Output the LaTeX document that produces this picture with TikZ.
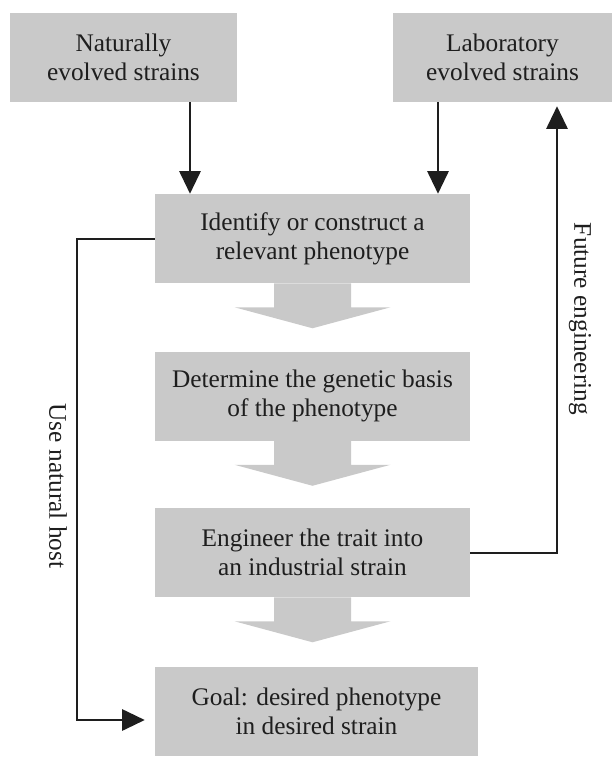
\documentclass[tikz,border=0pt]{standalone}
\usepackage{fontspec}
\setmainfont{Liberation Serif}
\usepackage{xcolor}
\usetikzlibrary{arrows.meta, math}
\definecolor{boxgray}{RGB}{201,201,201}
\definecolor{inkgray}{RGB}{30,30,30}

\begin{document}
\begin{tikzpicture}[x=0.75pt, y=-0.75pt,
  stepbox/.style={fill=boxgray, text=inkgray, align=center, inner sep=0pt,
    minimum height=66.75pt, font=\fontsize{19}{21.75}\selectfont},
  link/.style={line width=1.5pt, draw=inkgray,
    -{Triangle[length=17pt, width=16pt]}},
  sidelabel/.style={text=inkgray, rotate=-90, font=\fontsize{19}{21.75}\selectfont}]

\tikzmath{
\sw = 38.5; %half width of shaft
\hw = 78;   %half width of head
\sl = 24;   %shaft length
\hl = 45;   %tip
}

\useasboundingbox (0,0) rectangle (615,759);

%sources:
\node[stepbox, minimum width=170.25pt] (nat) at (123.5,57.5) {Naturally\\evolved strains};
\node[stepbox, minimum width=164.25pt] (lab) at (502.5,57.5) {Laboratory\\evolved strains};
%steps:
\node[stepbox, minimum width=236.25pt] (ident) at (312.5,238.5) {Identify or construct a\\relevant phenotype};
\node[stepbox, minimum width=236.25pt] (det) at (312.5,396) {Determine the genetic basis\\of the phenotype};
\node[stepbox, minimum width=236.25pt] (eng) at (312.5,552.5) {Engineer the trait into\\an industrial strain};
\node[stepbox, minimum width=242.25pt] (goal) at (316.5,711.5) {Goal: desired phenotype\\in desired strain};

%block arrows between steps
\foreach \a in {ident, det, eng}{
\begin{scope}[shift={(\a.south)}]
\fill[boxgray] (-\sw,0) -- (\sw,0) -- (\sw,\sl) -- (\hw,\sl) -- (0,\hl)
  -- (-\hw,\sl) -- (-\sw,\sl) -- cycle;
\end{scope}
}

%inputs
\coordinate (natx) at (190,0);
\coordinate (labx) at (438,0);
\draw[link] (nat.south -| natx) -- (ident.north -| natx);
\draw[link] (lab.south -| labx) -- (ident.north -| labx);

%feedback loops
\coordinate (futx) at (557,0);
\coordinate (hostx) at (77,720);
\draw[link, shorten >=3pt] (eng.east) -| (lab.south -| futx);
\draw[link, shorten >=7.5pt] (ident.west) -| (hostx) -- (goal.west |- hostx);

\node[sidelabel] (futlbl) at (580,319) {Future engineering};
\node[sidelabel] (hostlbl) at (58,486) {Use natural host};

\end{tikzpicture}
\end{document}
